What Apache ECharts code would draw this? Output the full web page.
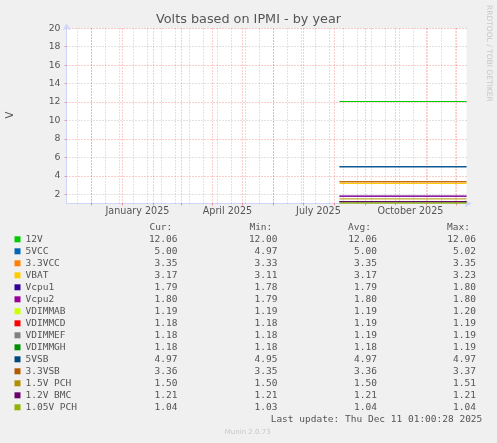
<!DOCTYPE html>
<html><head><meta charset="utf-8">
<script src="https://cdn.jsdelivr.net/npm/echarts@6/dist/echarts.min.js"></script>
<style>html,body{margin:0;padding:0;background:#F0F0F0}#c{width:497px;height:443px}</style>
</head><body><div id="c"></div>
<script>
// ---- data ----
const seriesNames = ['12V','5VCC','3.3VCC','VBAT','Vcpu1','Vcpu2','VDIMMAB','VDIMMCD','VDIMMEF','VDIMMGH','5VSB','3.3VSB','1.5V PCH','1.2V BMC','1.05V PCH'];
const seriesColors = ['#00CC00','#0066B3','#FF8000','#FFCC00','#330099','#990099','#CCFF00','#FF0000','#808080','#008F00','#00487D','#B35A00','#B38F00','#6B006B','#8FB300'];
const curValues = ['12.06','5.00','3.35','3.17','1.79','1.80','1.19','1.18','1.18','1.18','4.97','3.36','1.50','1.21','1.04'];
const minValues = ['12.00','4.97','3.33','3.11','1.78','1.79','1.19','1.18','1.18','1.18','4.95','3.35','1.50','1.21','1.03'];
const avgValues = ['12.06','5.00','3.35','3.17','1.79','1.80','1.19','1.19','1.19','1.18','4.97','3.36','1.50','1.21','1.04'];
const maxValues = ['12.06','5.02','3.35','3.23','1.80','1.80','1.20','1.19','1.19','1.19','4.97','3.37','1.51','1.21','1.04'];
const sampleTimes = ['2025-08-06T00:00:00','2025-09-01T00:00:00','2025-10-01T00:00:00','2025-11-01T00:00:00','2025-12-11T01:00:28'];
const v12V    = [12.06, 12.06, 12.06, 12.06, 12.06];
const v5VCC   = [5.00, 5.00, 5.00, 5.00, 5.00];
const v33VCC  = [3.35, 3.35, 3.35, 3.35, 3.35];
const vVBAT   = [3.17, 3.17, 3.17, 3.17, 3.17];
const vVcpu1  = [1.79, 1.79, 1.79, 1.79, 1.79];
const vVcpu2  = [1.80, 1.80, 1.80, 1.80, 1.80];
const vVDIMMAB = [1.19, 1.19, 1.19, 1.19, 1.19];
const vVDIMMCD = [1.19, 1.19, 1.19, 1.19, 1.18];
const vVDIMMEF = [1.19, 1.19, 1.19, 1.19, 1.18];
const vVDIMMGH = [1.18, 1.18, 1.18, 1.18, 1.18];
const v5VSB   = [4.97, 4.97, 4.97, 4.97, 4.97];
const v33VSB  = [3.36, 3.36, 3.36, 3.36, 3.36];
const v15PCH  = [1.50, 1.50, 1.50, 1.50, 1.50];
const v12BMC  = [1.21, 1.21, 1.21, 1.21, 1.21];
const v105PCH = [1.04, 1.04, 1.04, 1.04, 1.04];
const seriesValues = [v12V, v5VCC, v33VCC, vVBAT, vVcpu1, vVcpu2, vVDIMMAB, vVDIMMCD, vVDIMMEF, vVDIMMGH, v5VSB, v33VSB, v15PCH, v12BMC, v105PCH];
const xLabelDates = ['2025-01-16T00:00:00','2025-04-16T00:00:00','2025-07-16T00:00:00','2025-10-16T00:00:00'];
const xLabelTexts = ['January 2025','April 2025','July 2025','October 2025'];
const yTickLabels = [2,4,6,8,10,12,14,16,18,20];
const endTime = '2025-12-11T01:00:28';

// ---- helpers ----
const t = s => Date.parse(s + 'Z');
const DAY = 86400000;
const tEnd = t(endTime);
const tStart = tEnd - 400 * DAY;
const xLabelValues = xLabelDates.map(t);

// vertical grid: month starts (major) and 2-week marks (minor)
const gridMinor = [], gridMajor = [];
for (let d = t('2024-11-17T00:00:00'); d < tEnd; d += 14 * DAY) gridMinor.push(d);
for (let y = 2024, m = 11; ; ) { const d = Date.UTC(y, m, 1); if (d > tEnd) break; if (d > tStart) gridMajor.push(d); m++; if (m > 11) { m = 0; y++; } }
const MINOR = 'rgba(120,120,120,0.42)', MAJOR = 'rgba(240,50,50,0.48)';
const DASH = [1, 2];
const vLines = gridMinor.map(v => ({ xAxis: v, lineStyle: { color: MINOR, type: DASH, width: 1 } }))
  .concat(gridMajor.map(v => ({ xAxis: v, lineStyle: { color: MAJOR, type: DASH, width: 1 } })));

const FONT = 'DejaVu Sans', MONO = 'DejaVu Sans Mono', TXT = '#555';
const chart = echarts.init(document.getElementById('c'));
const series = [{
  type: 'line', name: '_grid', data: [], silent: true, z: 1, animation: false,
  markLine: { silent: true, symbol: ['none', 'none'], label: { show: false }, animation: false, data: vLines }
}].concat(seriesNames.map((name, i) => ({
  type: 'line', name, z: 10, animation: false, showSymbol: false, symbol: 'none',
  data: sampleTimes.map((s, k) => [t(s), seriesValues[i][k]]),
  lineStyle: { width: 1, color: seriesColors[i] }, itemStyle: { color: seriesColors[i] }
})));

const mono = { fontFamily: MONO, fontSize: 9.5, color: TXT };
chart.setOption({
  backgroundColor: '#F0F0F0',
  animation: false,
  grid: { left: 66.5, right: 30.5, top: 28.3, bottom: 239.5, show: true, backgroundColor: '#FFFFFF', borderWidth: 0 },
  xAxis: {
    type: 'value', min: tStart, max: tEnd, scale: true,
    axisLine: { onZero: false, lineStyle: { color: '#CFD6F8' }, symbol: ['none', 'arrow'], symbolSize: [6, 7], symbolOffset: [0, 5] },
    axisTick: { show: true, customValues: gridMajor, length: 2, lineStyle: { color: MAJOR } },
    splitLine: { show: false },
    axisLabel: { customValues: xLabelValues, formatter: (v) => xLabelTexts[xLabelValues.indexOf(v)] || '',
      color: TXT, fontFamily: FONT, fontSize: 9.6, margin: 3, hideOverlap: false }
  },
  yAxis: {
    type: 'value', min: 1, max: 20, interval: 1,
    axisLine: { show: true, lineStyle: { color: '#CFD6F8' }, symbol: ['none', 'arrow'], symbolSize: [6, 7], symbolOffset: [0, 5] },
    axisTick: { show: true, customValues: yTickLabels, length: 2, lineStyle: { color: MAJOR } },
    axisLabel: { formatter: v => yTickLabels.indexOf(v) >= 0 ? String(v) : '', color: TXT, fontFamily: FONT, fontSize: 9.3, margin: 6 },
    splitLine: { show: true, lineStyle: { color: [MINOR, MAJOR], type: DASH, width: 1 } }
  },
  legend: {
    orient: 'vertical', left: 14.5, top: 233.3, padding: 0, itemGap: 0,
    itemWidth: 6, itemHeight: 6, icon: 'rect', selectedMode: false,
    data: seriesNames,
    textStyle: Object.assign({ lineHeight: 12, rich: {
      n: Object.assign({ width: 120, align: 'left' }, mono),
      c: Object.assign({ width: 32, align: 'right' }, mono),
      m: Object.assign({ width: 100, align: 'right' }, mono),
      a: Object.assign({ width: 99.4, align: 'right' }, mono),
      x: Object.assign({ width: 99, align: 'right' }, mono)
    } }, mono),
    formatter: name => {
      const i = seriesNames.indexOf(name);
      return `{n|${name}}{c|${curValues[i]}}{m|${minValues[i]}}{a|${avgValues[i]}}{x|${maxValues[i]}}`;
    }
  },
  graphic: [
    { type: 'text', x: 248.5, y: 19.5, style: { text: 'Volts based on IPMI - by year', fill: TXT, font: '12.8px "DejaVu Sans"', align: 'center', verticalAlign: 'middle' } },
    { type: 'text', x: 10, y: 115, rotation: Math.PI / 2, style: { text: 'V', fill: TXT, font: '10px "DejaVu Sans"', align: 'center', verticalAlign: 'middle' } },
    { type: 'text', x: 489, y: 53.3, rotation: -Math.PI / 2, style: { text: 'RRDTOOL / TOBI OETIKER', fill: '#C8C8C8', font: '7.5px "DejaVu Sans"', align: 'center', verticalAlign: 'middle' } },
    { type: 'text', x: 172.3, y: 227.3, style: { text: 'Cur:', fill: TXT, font: '9.5px "DejaVu Sans Mono"', align: 'right', verticalAlign: 'middle' } },
    { type: 'text', x: 272.3, y: 227.3, style: { text: 'Min:', fill: TXT, font: '9.5px "DejaVu Sans Mono"', align: 'right', verticalAlign: 'middle' } },
    { type: 'text', x: 371, y: 227.3, style: { text: 'Avg:', fill: TXT, font: '9.5px "DejaVu Sans Mono"', align: 'right', verticalAlign: 'middle' } },
    { type: 'text', x: 470, y: 227.3, style: { text: 'Max:', fill: TXT, font: '9.5px "DejaVu Sans Mono"', align: 'right', verticalAlign: 'middle' } },
    { type: 'text', x: 482.3, y: 419.3, style: { text: 'Last update: Thu Dec 11 01:00:28 2025', fill: TXT, font: '9.5px "DejaVu Sans Mono"', align: 'right', verticalAlign: 'middle' } },
    { type: 'text', x: 247.7, y: 431.7, style: { text: 'Munin 2.0.73', fill: '#C8C8C8', font: '7px "DejaVu Sans"', align: 'center', verticalAlign: 'middle' } }
  ],
  series
});
</script></body></html>
